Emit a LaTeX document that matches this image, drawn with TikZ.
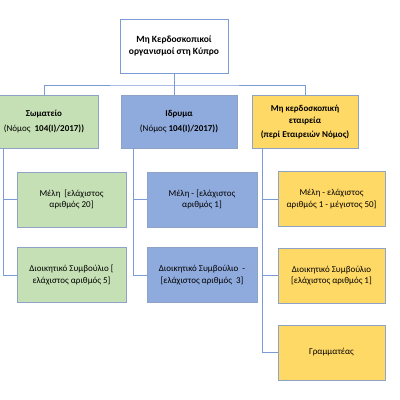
\documentclass[tikz,border=0pt]{standalone}
\usepackage{fontspec}
\setmainfont{Carlito}
\usetikzlibrary{positioning}
\definecolor{lnblue}{HTML}{7B9BD6}
\definecolor{bdgray}{HTML}{8FA3C7}
\definecolor{fgreen}{HTML}{C5E0B4}
\definecolor{fblue}{HTML}{8FAADC}
\definecolor{fyellow}{HTML}{FFD966}
\tikzset{
  unit/.style={draw=bdgray, line width=0.7pt, align=center, inner sep=2pt,
               font=\fontsize{9}{11.5}\selectfont},
  head/.style={unit, fill=white, draw=lnblue, minimum width=108pt,
               minimum height=54pt, font=\fontsize{9.5}{12}\selectfont\bfseries},
  branch/.style={unit, minimum height=53pt},
  member/.style={unit, minimum height=55pt},
  wire/.style={draw=lnblue, line width=0.8pt},
}
\begin{document}
\begin{tikzpicture}[x=1pt, y=-1pt]
\useasboundingbox (0,0) rectangle (400,400);
\fill[white] (0,0) rectangle (400,400);

% top and first level
\node[head] (top) at (174,46) {Μη Κερδοσκοπικοί\\οργανισμοί στη Κύπρο};
\node[branch, fill=fgreen, minimum width=108pt] (sow) at (44,121.5)
  {\textbf{Σωματείο}\\[3pt](Νόμος\ \ \textbf{104(Ι)/2017))}};
\node[branch, fill=fblue, minimum width=116pt] (idr) at (179,121.5)
  {\textbf{Ιδρυμα}\\[3pt](Νόμος \textbf{104(Ι)/2017))}};
\node[branch, fill=fyellow, minimum width=106pt] (mke) at (305,122)
  {\textbf{Μη κερδοσκοπική}\\\textbf{εταιρεία}\\[3pt]\textbf{(περί Εταιρειών Νόμος)}};

% members
\node[member, fill=fgreen, minimum width=109pt] (sow1) at (71.5,199.5)
  {Μέλη\ \ [ελάχιστος\\αριθμός 20]};
\node[member, fill=fgreen, minimum width=109pt] (sow2) at (71.5,275)
  {Διοικητικό Συμβούλιο [\\ελάχιστος αριθμός 5]};
\node[member, fill=fblue, minimum width=110pt] (idr1) at (202,199.5)
  {Μέλη - [ελάχιστος\\αριθμός 1]};
\node[member, fill=fblue, minimum width=110pt] (idr2) at (202,275)
  {Διοικητικό Συμβούλιο\ \ -\\{}[ελάχιστος αριθμός\ \ 3]};
\node[member, fill=fyellow, minimum width=107pt] (mke1) at (331.5,199)
  {Μέλη - ελάχιστος\\αριθμός 1 - μέγιστος 50]};
\node[member, fill=fyellow, minimum width=107pt] (mke2) at (331.5,275.5)
  {Διοικητικό Συμβούλιο\\{}[ελάχιστος αριθμός 1]};
\node[member, fill=fyellow, minimum width=107pt] (mke3) at (331.5,352.5)
  {Γραμματέας};

% connectors
\coordinate (bus) at (174,85);
\draw[wire] (top.south) -- (top.south |- idr.north);
\draw[wire] (sow.north) |- (bus) -| (mke.north);

\foreach \g/\sx in {sow/3, idr/133, mke/262}
  \coordinate (sp-\g) at (\sx,148);
\foreach \g/\n in {sow/2, idr/2, mke/3}
  \draw[wire] (sp-\g) |- (\g\n.west);
\foreach \g/\m in {sow/1, idr/1, mke/1, mke/2}
  \draw[wire] (\g\m.west) -- (\g\m.west -| sp-\g);

\end{tikzpicture}
\end{document}
